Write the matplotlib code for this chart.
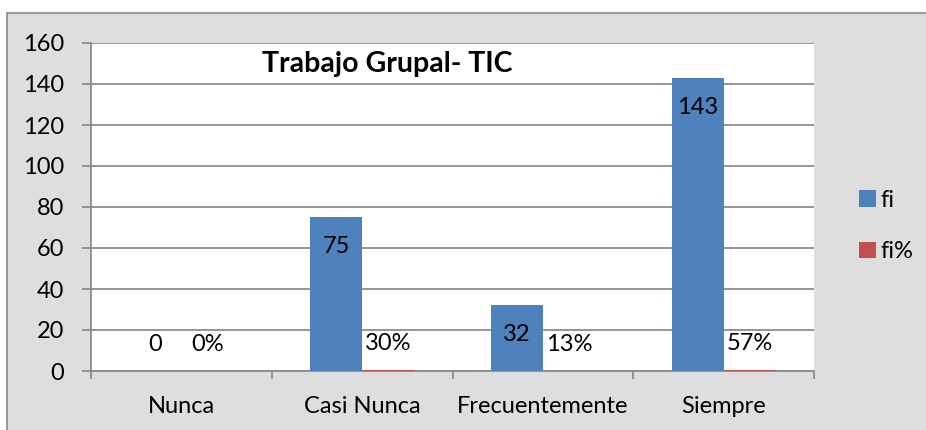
import numpy as np
import matplotlib.pyplot as plt
from matplotlib.patches import Rectangle, Patch

plt.rcParams['font.family'] = ['Lato', 'DejaVu Sans']

# data
categories = ['Nunca', 'Casi Nunca', 'Frecuentemente', 'Siempre']
fi = [0, 75, 32, 143]
fi_pct = [0.00, 0.30, 0.13, 0.57]
fi_pct_labels = ['0%', '30%', '13%', '57%']

blue = '#4F81BD'
red = '#C0504D'
grid_col = '#8c8c8c'
fs = 17

W, H = 926, 430
fig = plt.figure(figsize=(W / 100, H / 100), dpi=100)
fig.patch.set_facecolor('white')

# chart area (marble-ish grey) with its border
fig.patches.append(Rectangle((7 / W, -0.1), 1.2, (H - 13) / H + 0.1,
                             transform=fig.transFigure, facecolor='#dedede',
                             edgecolor='#8a8a8a', linewidth=1.2, zorder=-1))

ax = fig.add_axes([91 / W, (H - 371) / H, (814 - 91) / W, (371 - 43) / H])
ax.set_zorder(2)
ax.set_facecolor('white')

x = np.arange(len(categories))
w = 0.287
b1 = ax.bar(x - w / 2, fi, w, color=blue, zorder=3, label='fi')
b2 = ax.bar(x + w / 2, fi_pct, w, color=red, zorder=3, label='fi%')

ax.set_xlim(-0.5, len(categories) - 0.5)
ax.set_ylim(0, 160)
ax.set_yticks(range(0, 161, 20))
ax.yaxis.grid(True, color=grid_col, linewidth=1.3, zorder=0)
ax.set_axisbelow(True)

for s in ['top', 'right']:
    ax.spines[s].set_visible(False)
for s in ['left', 'bottom']:
    ax.spines[s].set_color(grid_col)
    ax.spines[s].set_linewidth(1.3)

ax.tick_params(axis='y', length=6.5, width=1.3, color=grid_col, pad=13,
               labelsize=fs, labelcolor='black')
ax.set_xticks(x)
ax.set_xticklabels(categories)
ax.tick_params(axis='x', which='major', length=0, pad=18, labelsize=fs)
ax.set_xticks(np.arange(-0.5, len(categories), 1), minor=True)
ax.tick_params(axis='x', which='minor', length=6, width=1.3, color=grid_col)

# value labels
for xi, v in zip(x, fi):
    if v > 0:
        ax.annotate(str(v), (xi - w / 2, v), xytext=(0, -21), textcoords='offset points',
                    ha='center', va='center', fontsize=fs)
    else:
        ax.annotate(str(v), (xi - w / 2, v), xytext=(0, 19), textcoords='offset points',
                    ha='center', va='center', fontsize=fs)
for xi, v, lab in zip(x, fi_pct, fi_pct_labels):
    ax.annotate(lab, (xi + w / 2, v), xytext=(0, 19), textcoords='offset points',
                ha='center', va='center', fontsize=fs)

ax.text((387 - 91) / 723, (371 - 64) / 328, 'Trabajo Grupal- TIC', transform=ax.transAxes,
        ha='center', va='center', fontsize=20.5, fontweight='bold')

handles = [Patch(facecolor=blue, label='fi'), Patch(facecolor=red, label='fi%')]
fig.legend(handles=handles, loc='center left', bbox_to_anchor=(838 / W, 1 - 226 / H),
           frameon=False, fontsize=fs, handlelength=0.7, handleheight=0.7,
           handletextpad=0.2, labelspacing=1.3)

fig.savefig('out.png', dpi=100, facecolor=fig.get_facecolor())
